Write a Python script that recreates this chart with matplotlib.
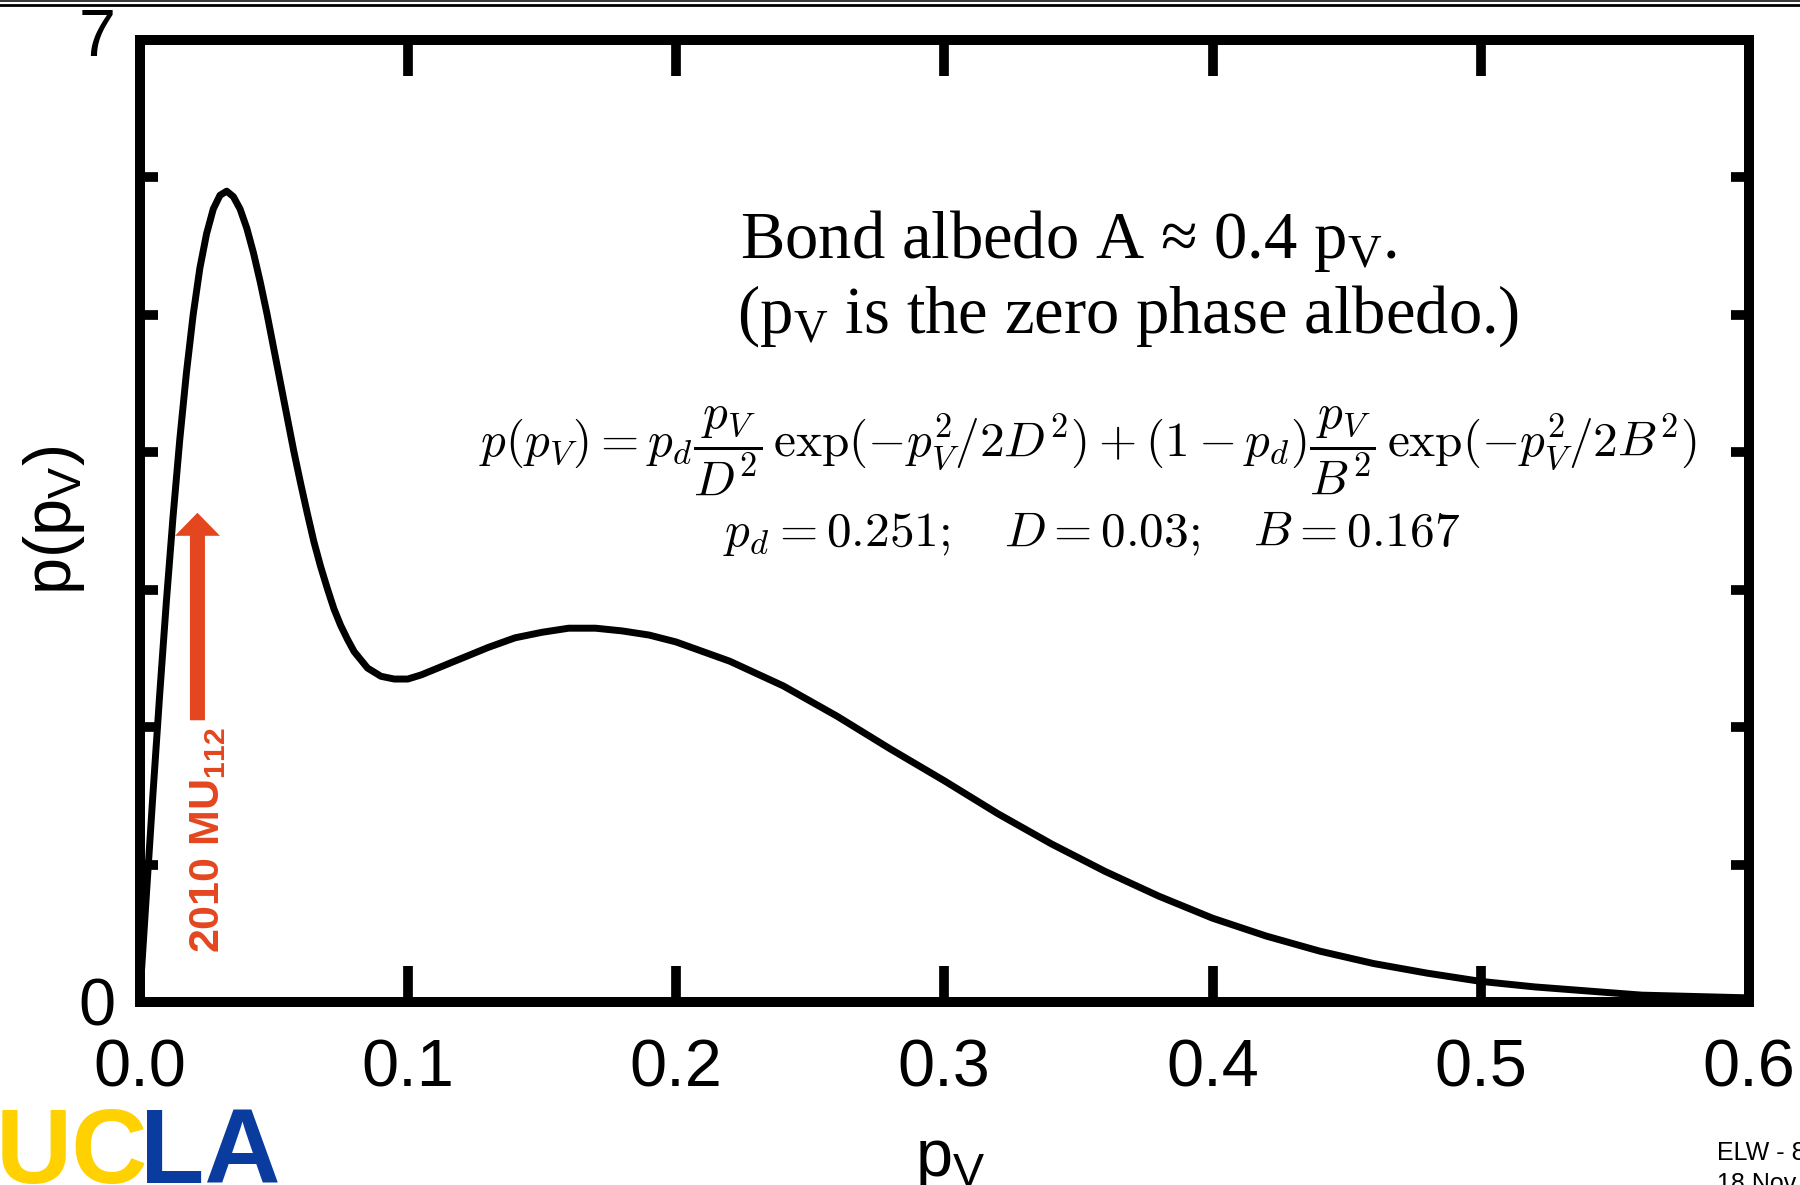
import matplotlib
matplotlib.use("Agg")
import matplotlib.pyplot as plt
from matplotlib import font_manager as fm
from matplotlib.lines import Line2D
from matplotlib.patches import FancyArrowPatch, ArrowStyle
from matplotlib.transforms import ScaledTranslation

# --- data ---
pv = [0, 0.0025, 0.005, 0.0075, 0.01, 0.0125, 0.015, 0.0175, 0.02, 0.0225,
      0.025, 0.0275, 0.03, 0.0325, 0.035, 0.0375, 0.04, 0.0425, 0.045, 0.0475,
      0.05, 0.0525, 0.055, 0.0575, 0.06, 0.0625, 0.065, 0.0675, 0.07, 0.0725,
      0.075, 0.0775, 0.08, 0.0825, 0.085, 0.0875, 0.09, 0.095, 0.1, 0.105,
      0.11, 0.115, 0.12, 0.13, 0.14, 0.15, 0.16, 0.17, 0.18, 0.19,
      0.2, 0.22, 0.24, 0.26, 0.28, 0.3, 0.32, 0.34, 0.36, 0.38,
      0.4, 0.42, 0.44, 0.46, 0.48, 0.5, 0.52, 0.54, 0.56, 0.58, 0.6]
density = [0, 0.76, 1.51, 2.23, 2.91, 3.53, 4.09, 4.58, 5.00, 5.34,
           5.59, 5.77, 5.87, 5.90, 5.86, 5.77, 5.63, 5.45, 5.24, 5.01,
           4.76, 4.51, 4.26, 4.01, 3.78, 3.56, 3.35, 3.17, 3.01, 2.86,
           2.74, 2.64, 2.55, 2.49, 2.43, 2.40, 2.37, 2.35, 2.35, 2.38,
           2.42, 2.46, 2.50, 2.58, 2.65, 2.69, 2.72, 2.72, 2.70, 2.67,
           2.62, 2.48, 2.30, 2.08, 1.84, 1.61, 1.37, 1.15, 0.95, 0.77,
           0.61, 0.48, 0.37, 0.28, 0.21, 0.15, 0.11, 0.08, 0.05, 0.04, 0.03]

x_ticks = [0.0, 0.1, 0.2, 0.3, 0.4, 0.5, 0.6]
x_ticklabels = ["0.0", "0.1", "0.2", "0.3", "0.4", "0.5", "0.6"]
y_ticks = [0, 1, 2, 3, 4, 5, 6, 7]
y_ticklabels = ["0", "", "", "", "", "", "", "7"]

# 2010 MU112 arrow (x position, tail, tip)
mu_x = 0.0216
mu_tail = 2.05
mu_tip = 3.56

RED = "#e4461f"
YELLOW = "#ffd100"
BLUE = "#0a3ca0"


def pick_font(names):
    for n in names:
        try:
            fm.findfont(fm.FontProperties(family=n), fallback_to_default=False)
            return n
        except ValueError:
            pass
    return "DejaVu Sans"


SANS = pick_font(["Liberation Sans", "Arial", "DejaVu Sans"])
SERIF = pick_font(["Liberation Serif", "DejaVu Serif"])
NARROW = pick_font(["Liberation Sans Narrow", SANS])
has_narrow = NARROW == "Liberation Sans Narrow"

plt.rcParams["font.family"] = SANS
plt.rcParams["mathtext.fontset"] = "cm"

W, H = 1800, 1185
fig = plt.figure(figsize=(W / 100, H / 100), dpi=100)
ax = fig.add_axes([139.5 / W, 1 - 1002 / H, (1749 - 139.5) / W, (1002 - 40) / H])

ax.plot(pv, density, color="black", lw=5, solid_capstyle="round", solid_joinstyle="round")

ax.set_xlim(0, 0.6)
ax.set_ylim(0, 7)
for s in ax.spines.values():
    s.set_linewidth(7.2)
ax.set_xticks(x_ticks)
ax.set_xticklabels(x_ticklabels)
ax.set_yticks(y_ticks)
ax.set_yticklabels(y_ticklabels)
ax.tick_params(axis="x", direction="in", length=26, width=7, top=True, labelsize=48, pad=26)
ax.tick_params(axis="y", direction="in", length=13, width=7, right=True, labelsize=48, pad=17)

# the "7" sits a little above the top spine
top_lbl = ax.get_yticklabels()[-1]
top_lbl.set_transform(top_lbl.get_transform() + ScaledTranslation(0, 0.08, fig.dpi_scale_trans))

# red arrow + label
arrow = FancyArrowPatch((mu_x, mu_tail), (mu_x, mu_tip),
                        arrowstyle=ArrowStyle.Simple(head_length=1.66, head_width=3.24, tail_width=1.08),
                        mutation_scale=10, shrinkA=0, shrinkB=0, color=RED, lw=0)
ax.add_patch(arrow)
ax.text(0.0255, 0.357, r"2010 MU$\mathregular{_{112}}$", rotation=90, color=RED,
        fontfamily=NARROW, fontweight="bold", fontsize=37 if has_narrow else 31,
        ha="center", va="bottom")

# annotations
fig.text(740 / W, 1 - 258 / H, "Bond albedo A \u2248 0.4 p$\\mathregular{_V}$.",
         fontfamily=SERIF, fontsize=48, ha="left", va="baseline")
fig.text(737 / W, 1 - 333 / H, "(p$\\mathregular{_V}$ is the zero phase albedo.)",
         fontfamily=SERIF, fontsize=48, ha="left", va="baseline")
fig.text(1088 / W, 1 - 451 / H,
         r"$p(p_V) = p_d \dfrac{p_V}{D^2}\, \exp(-p_V^2/2D^2) + (1-p_d)\dfrac{p_V}{B^2}\, \exp(-p_V^2/2B^2)$",
         fontsize=35.5, ha="center", va="center")
fig.text(1092 / W, 1 - 534 / H, r"$p_d = 0.251;\quad D = 0.03;\quad B = 0.167$",
         fontsize=35.5, ha="center", va="center")

# axis labels
fig.text(950 / W, 1 - 1176 / H, r"p$\mathregular{_V}$", fontsize=48, ha="center", va="baseline")
fig.text(54 / W, 1 - 520 / H, r"p(p$\mathregular{_V}$)", fontsize=48, rotation=90,
         ha="center", va="center")

# slide decorations
fig.add_artist(Line2D([0, 1], [1 - 1 / H, 1 - 1 / H], lw=1.1, color="black", transform=fig.transFigure))
fig.add_artist(Line2D([0, 1], [1 - 5.3 / H, 1 - 5.3 / H], lw=2.0, color="black", transform=fig.transFigure))

logo_size = 85 if has_narrow else 76
uc = fig.text(-4 / W, 2 / H, "UC", color=YELLOW, fontfamily=NARROW, fontweight="bold",
              fontsize=logo_size, ha="left", va="baseline")
ax.annotate("LA", xy=(1, 0), xycoords=uc, xytext=(-6, 0), textcoords="offset points",
            color=BLUE, fontfamily=NARROW, fontweight="bold",
            fontsize=logo_size, ha="left", va="bottom", annotation_clip=False)

fig.text(1717 / W, 25 / H, "ELW - 8", fontsize=18, ha="left", va="baseline")
fig.text(1717 / W, -6 / H, "18 Nov 2010", fontsize=18, ha="left", va="baseline")

fig.savefig("out.png", dpi=100)
